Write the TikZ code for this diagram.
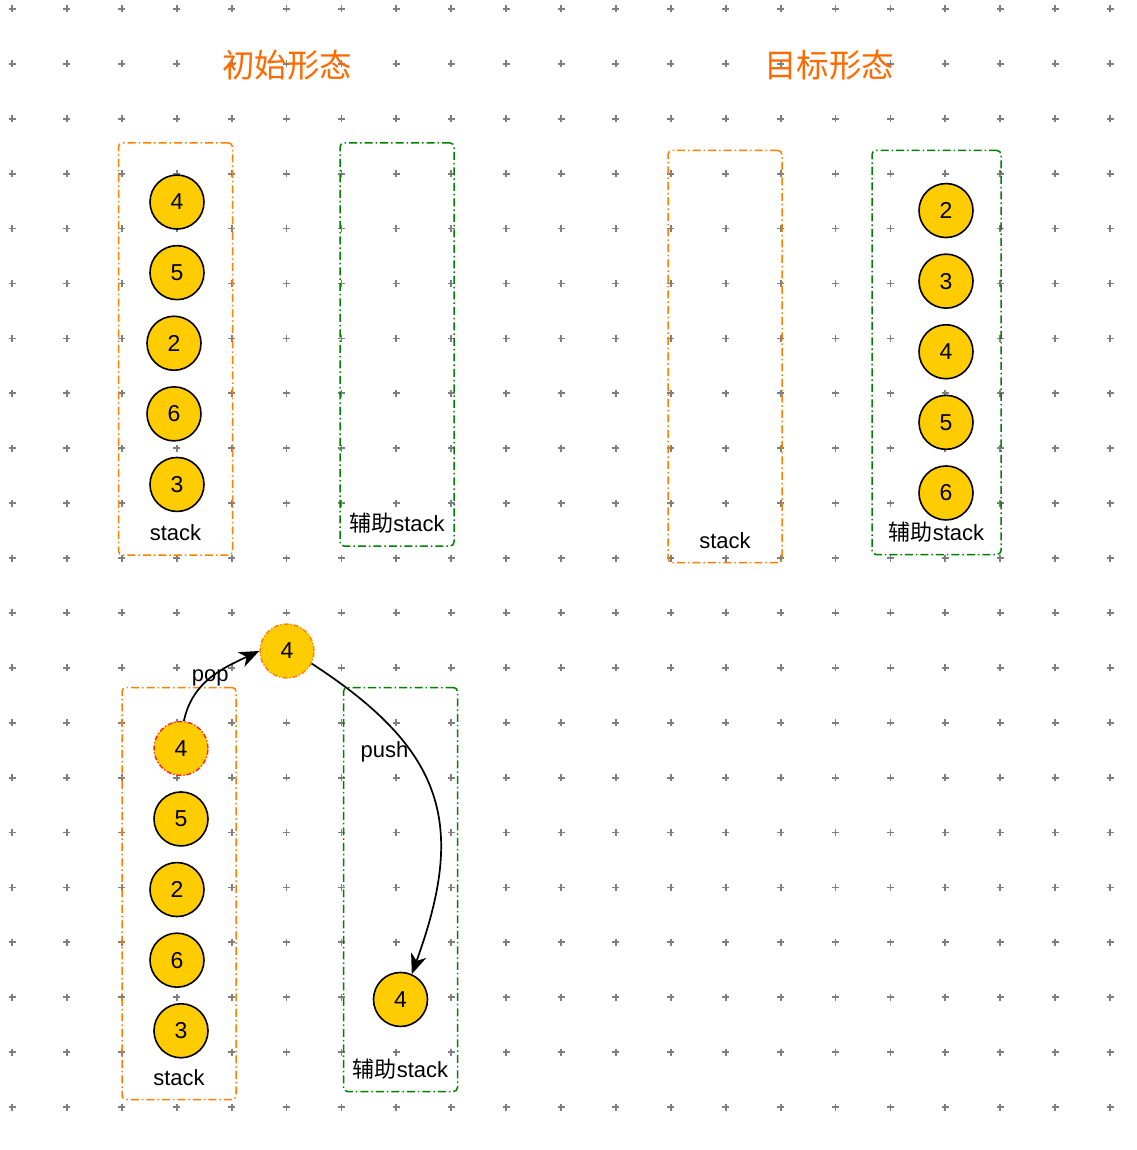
\documentclass[tikz,border=0pt]{standalone}
\usepackage{fontspec}
\setmainfont{Liberation Sans}
\newfontfamily\cjk{Noto Sans CJK SC}
\usetikzlibrary{positioning, arrows.meta}

\definecolor{ballfill}{HTML}{FFCC00}
\definecolor{stackorange}{HTML}{FF7F00}
\definecolor{helpgreen}{HTML}{008000}
\definecolor{titleorange}{HTML}{FF6A00}
\definecolor{gridgray}{HTML}{7F7F7F}
\definecolor{popred}{HTML}{FF2020}

\tikzset{
	ball/.style={draw, circle, fill=ballfill, line width=1.6pt, minimum size=54pt, inner sep=0pt, font=\fontsize{23}{26}\selectfont},
	dashball/.style={ball, line width=1.4pt, dash pattern=on 5pt off 2pt on 1.2pt off 2pt},
	box/.style={draw, rounded corners=4pt, line width=1.5pt, minimum width=114pt, dash pattern=on 8pt off 3pt on 1.5pt off 3pt},
	stackbox/.style={box, draw=stackorange},
	helpbox/.style={box, draw=helpgreen},
	lbl/.style={font=\fontsize{22}{26}\selectfont, inner sep=0pt},
	title/.style={font=\cjk\fontsize{32.5}{38}\selectfont, text=titleorange},
	move/.style={->, >={Stealth[length=20pt, width=16pt, inset=6pt]}, line width=1.7pt},
}

\begin{document}
\begin{tikzpicture}[x=1pt, y=-1pt]
	
	\useasboundingbox (0,0) rectangle (1136,1150);
	
	% grid
	\foreach \i in {0,...,20}
		\foreach \j in {0,...,20}
			\draw[gridgray, line width=1.8pt] (12+54.9*\i-3.5, 9+54.9*\j) -- ++(7,0) (12+54.9*\i, 9+54.9*\j-3.5) -- ++(0,7);
	
	\node[title]                                   (title 1) at (287,65)  {初始形态};
	\node[title]                                   (title 2) at (829,65)  {目标形态};
	
	% initial state
	\node[stackbox, minimum height=412pt]          (stack 1) at (175.5,349) {};
	\node[helpbox, minimum height=403pt]           (help 1)  at (397,344.5) {};
	\node[ball, below=32pt of stack 1.north, xshift=1.5pt] (a4) {4};
	\node[ball, below=15pt of a4]                  (a5)      {5};
	\node[ball, below=15pt of a5, xshift=-3pt]     (a2)      {2};
	\node[ball, below=15pt of a2]                  (a6)      {6};
	\node[ball, below=15pt of a6, xshift=3pt]      (a3)      {3};
	\node[lbl, above=15pt of stack 1.south, anchor=base] (stack 1 label) {stack};
	\node[lbl, above=15pt of help 1.south, anchor=base]  (help 1 label)  {{\cjk 辅助}stack};
	
	% target state
	\node[stackbox, minimum height=412pt]          (stack 2) at (725,356.5) {};
	\node[helpbox, minimum width=129pt, minimum height=404pt] (help 2) at (936.5,352.5) {};
	\node[ball, below=33pt of help 2.north, xshift=9.5pt] (b2) {2};
	\node[ball, below=15pt of b2]                  (b3)      {3};
	\node[ball, below=15pt of b3]                  (b4)      {4};
	\node[ball, below=15pt of b4]                  (b5)      {5};
	\node[ball, below=15pt of b5]                  (b6)      {6};
	\node[lbl, above=15pt of stack 2.south, anchor=base] (stack 2 label) {stack};
	\node[lbl, above=15pt of help 2.south, anchor=base]  (help 2 label)  {{\cjk 辅助}stack};
	
	% moving
	\node[stackbox, minimum height=412pt]          (stack 3) at (179,893.5) {};
	\node[helpbox, minimum height=404pt]           (help 3)  at (400.5,889.5) {};
	\node[dashball, draw=popred, below=34pt of stack 3.north, xshift=2pt] (c4) {4};
	\node[ball, below=15pt of c4]                  (c5)      {5};
	\node[ball, below=15pt of c5, xshift=-4pt]     (c2)      {2};
	\node[ball, below=15pt of c2]                  (c6)      {6};
	\node[ball, below=15pt of c6, xshift=4pt]      (c3)      {3};
	\node[dashball, draw=stackorange]              (up4)     at (287,651) {4};
	\node[ball, above=65pt of help 3.south]        (d4)      {4};
	\node[lbl, above=15pt of stack 3.south, anchor=base] (stack 3 label) {stack};
	\node[lbl, above=15pt of help 3.south, anchor=base]  (help 3 label)  {{\cjk 辅助}stack};
	
	\draw[move] (c4.84) to[out=78, in=205] node[lbl, pos=0.45, xshift=3pt, yshift=3pt] {pop} (up4.west);
	\draw[move] (up4.-27) to[out=-33, in=70, looseness=1.25] node[lbl, pos=0.3, xshift=-18pt, yshift=-11pt] {push} (d4.66);
	
\end{tikzpicture}
\end{document}
